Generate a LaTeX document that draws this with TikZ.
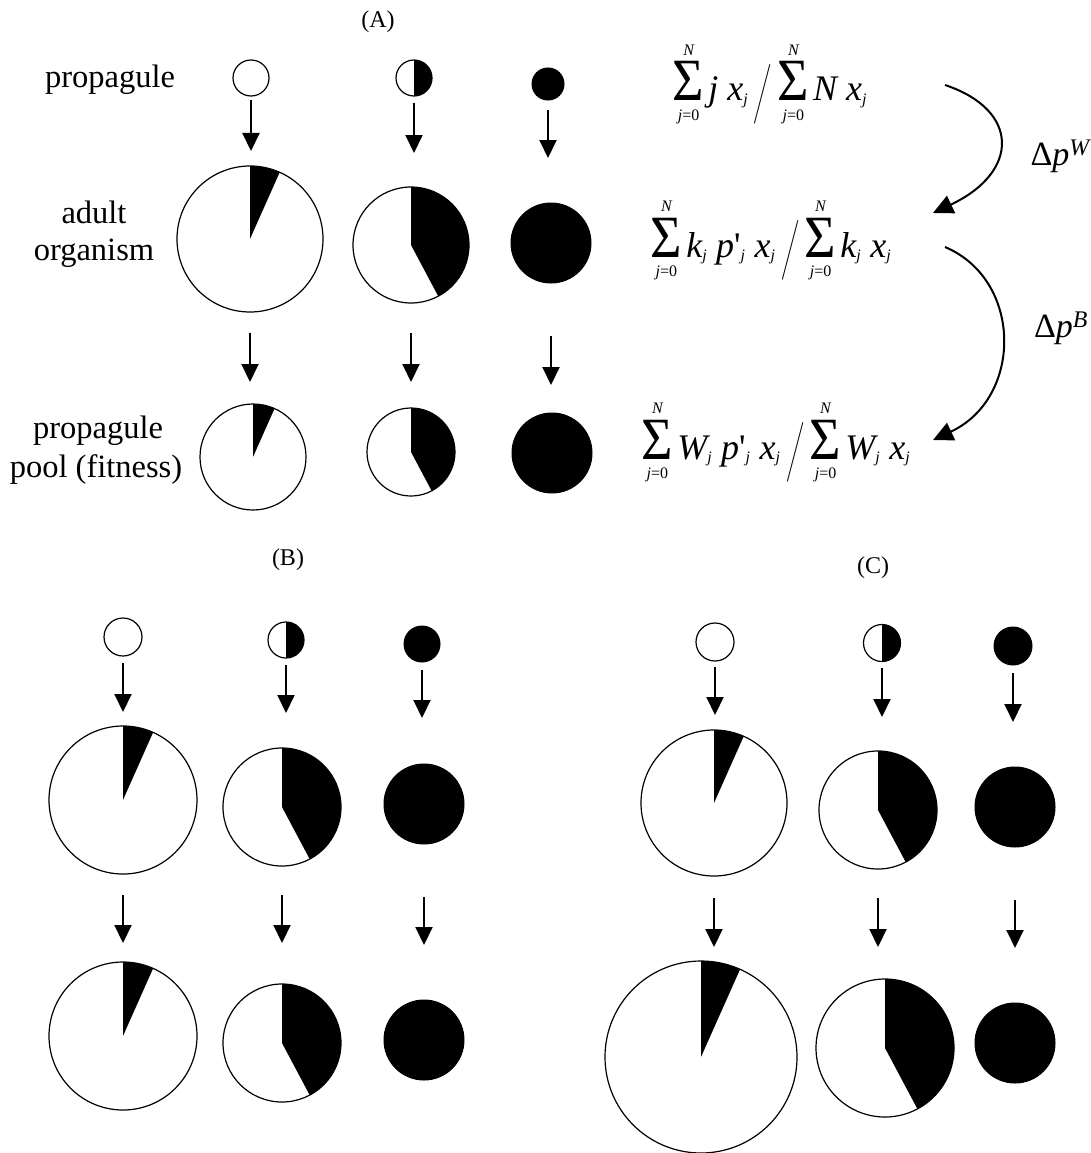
\documentclass[tikz,border=0pt]{standalone}
\usepackage{amsmath}
\usepackage{graphicx}
\usepackage{fontspec}
\setmainfont{Liberation Serif}
\usetikzlibrary{arrows.meta}
\newcommand{\limfont}{\fontsize{16}{16}\selectfont}
\newcommand{\Sm}{\mathop{\hbox{\fontsize{60}{60}\selectfont\scalebox{0.9}[1]{Σ}}}\limits_{\vbox{\kern5pt\hbox{\limfont\itshape j\upshape =0}}}^{\vbox{\hbox{\limfont\itshape N}\kern1pt}}}
\newcommand{\sj}{_{\hbox{\limfont\itshape j}}}
\newcommand{\vi}[1]{\textit{#1}}
\newcommand{\gap}{\hspace{9pt}}
\newcommand{\prm}{\textup{\addfontfeatures{Ligatures=TeXOff}'}}
\newcommand{\Sl}{\mathbin{\scalebox{0.7}[1]{$\bigg/$}}}
\newcommand{\dnarrow}[4]{\draw[varr, shorten <=#3pt, shorten >=#4pt] (#1.south) -- (#1.south |- #2.north);}
\begin{document}
\begin{tikzpicture}[x=1pt,y=1pt,
  ring/.style={circle, draw=black, line width=1.2pt, inner sep=0pt, outer sep=0pt, minimum size=#1},
  dot/.style={circle, fill=black, draw=black, line width=1pt, inner sep=0pt, outer sep=0pt, minimum size=#1},
  half/.style={ring=#1, path picture={\fill[black] (path picture bounding box.center) -- +(90:300pt) -- +(0:300pt) -- +(-90:300pt) -- cycle;}},
  sliver/.style={ring=#1, path picture={\fill[black] (path picture bounding box.center) -- +(90:300pt) -- +(66:300pt) -- cycle;}},
  bigpie/.style={ring=#1, path picture={\fill[black] (path picture bounding box.center) -- +(90:300pt) -- +(14:300pt) -- +(-62:300pt) -- cycle;}},
  varr/.style={-{Triangle[length=18pt,width=17pt]}, line width=2pt},
  carr/.style={-{Triangle[length=20pt,width=19pt]}, line width=2pt},
  lab/.style={font=\fontsize{32.5}{38}\selectfont, inner sep=0pt},
  ttl/.style={font=\fontsize{24}{28}\selectfont, inner sep=0pt},
  fml/.style={font=\fontsize{36}{43}\selectfont, inner sep=0pt},
  dlt/.style={font=\fontsize{34}{40}\selectfont, inner sep=0pt}
]
\fill[white] (0,0) rectangle (1091,-1153);
\useasboundingbox (0,0) rectangle (1091,-1153);

% titles
\node[ttl] (tA) at (378,-22) {(A)};
\node[ttl] (tB) at (288,-560) {(B)};
\node[ttl] (tC) at (873,-568) {(C)};

% row labels
\node[lab, anchor=base] (lp1) at (110,-88) {propagule};
\node[lab, anchor=base] (lao1) at (94,-223) {adult};
\node[lab, anchor=base] (lao2) at (94,-260) {organism};
\node[lab, anchor=base] (lpp1) at (98,-438) {propagule};
\node[lab, anchor=base] (lpp2) at (96,-477) {pool (fitness)};

% panel A circles
\node[ring=36pt] (A1p) at (251,-78) {};
\node[half=36pt] (A2p) at (414,-78) {};
\node[dot=32pt] (A3p) at (548,-84) {};
\node[sliver=146pt] (A1a) at (250,-239) {};
\node[bigpie=116pt] (A2a) at (411,-245) {};
\node[dot=80pt] (A3a) at (551,-243) {};
\node[sliver=106pt] (A1f) at (253,-457) {};
\node[bigpie=88pt] (A2f) at (411,-452) {};
\node[dot=80pt] (A3f) at (552,-453) {};

% panel B circles
\node[ring=38pt] (B1p) at (123,-637) {};
\node[half=36pt] (B2p) at (286,-640) {};
\node[dot=36pt] (B3p) at (422,-644) {};
\node[sliver=148pt] (B1a) at (123,-800) {};
\node[bigpie=118pt] (B2a) at (282,-807) {};
\node[dot=80pt] (B3a) at (424,-804) {};
\node[sliver=148pt] (B1f) at (123,-1036) {};
\node[bigpie=118pt] (B2f) at (282,-1043) {};
\node[dot=80pt] (B3f) at (424,-1040) {};

% panel C circles
\node[ring=38pt] (C1p) at (715,-642) {};
\node[half=37pt] (C2p) at (882,-643) {};
\node[dot=38pt] (C3p) at (1013,-646) {};
\node[sliver=146pt] (C1a) at (714,-803) {};
\node[bigpie=118pt] (C2a) at (878,-810) {};
\node[dot=80pt] (C3a) at (1015,-807) {};
\node[sliver=192pt] (C1f) at (701,-1057) {};
\node[bigpie=138pt] (C2f) at (885,-1048) {};
\node[dot=80pt] (C3f) at (1015,-1043) {};

% vertical arrows
\dnarrow{A1p}{A1a}{4}{15}
\dnarrow{A2p}{A2a}{7}{34}
\dnarrow{A3p}{A3a}{10}{45}
\dnarrow{A1a}{A1f}{21}{22}
\dnarrow{A2a}{A2f}{30}{26}
\dnarrow{A3a}{A3f}{53}{28}
\dnarrow{B1p}{B1a}{7}{14}
\dnarrow{B2p}{B2a}{7}{35}
\dnarrow{B3p}{B3a}{8}{46}
\dnarrow{B1a}{B1f}{21}{19}
\dnarrow{B2a}{B2f}{29}{41}
\dnarrow{B3a}{B3f}{53}{55}
\dnarrow{C1p}{C1a}{6}{15}
\dnarrow{C2p}{C2a}{6}{34}
\dnarrow{C3p}{C3a}{8}{45}
\dnarrow{C1a}{C1f}{22}{14}
\dnarrow{C2a}{C2f}{29}{32}
\dnarrow{C3a}{C3f}{53}{55}

% formulas
\node[fml, anchor=base] (fA) at (770,-101) {$\Sm \vi{j}\gap\vi{x}\sj \Sl \Sm \vi{N}\gap\vi{x}\sj$};
\node[fml, anchor=base] (fB) at (771,-257) {$\Sm \vi{k}\sj\gap \vi{p}\prm\sj\gap \vi{x}\sj \Sl \Sm \vi{k}\sj\gap \vi{x}\sj$};
\node[fml, anchor=base] (fC) at (776,-459) {$\Sm \vi{W}\sj\gap \vi{p}\prm\sj\gap \vi{x}\sj \Sl \Sm \vi{W}\sj\gap \vi{x}\sj$};

% delta labels
\node[dlt, anchor=base] (dW) at (1061,-165) {Δ\vi{p}\textsuperscript{\vi{W}}};
\node[dlt, anchor=base] (dB) at (1061,-337) {Δ\vi{p}\textsuperscript{\vi{B}}};

% curved arrows
\coordinate (w1) at (945,-85);
\coordinate (w2) at (933,-213);
\draw[carr] (w1) .. controls (1020,-110) and (1020,-172) .. (w2);
\coordinate (b1) at (945,-247);
\coordinate (b2) at (933,-440);
\draw[carr] (b1) .. controls (1023,-280) and (1023,-398) .. (b2);
\end{tikzpicture}
\end{document}
